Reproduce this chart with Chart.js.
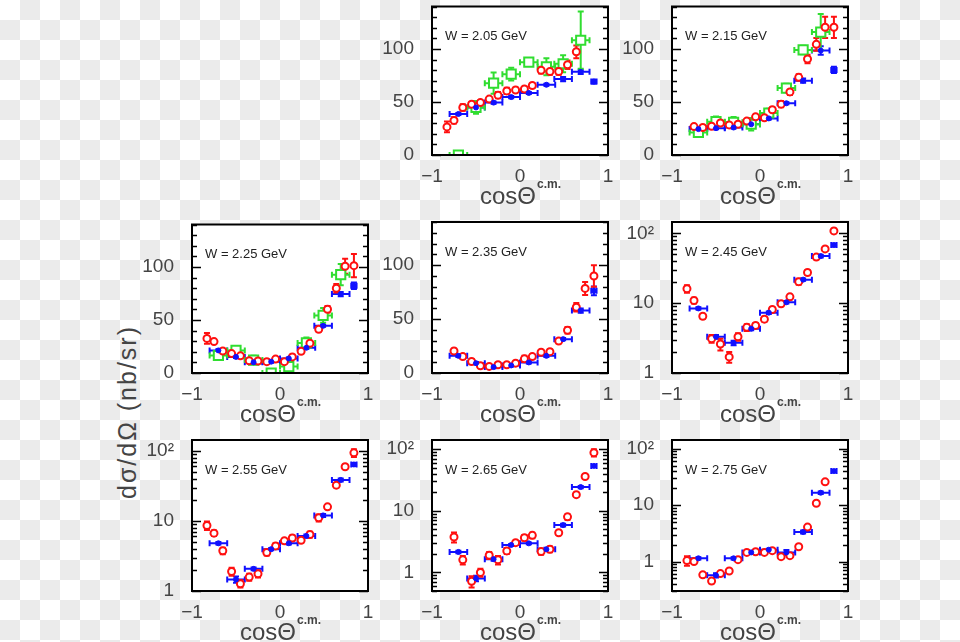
<!DOCTYPE html>
<html>
<head>
<meta charset="utf-8">
<script src="https://cdn.jsdelivr.net/npm/chart.js@4/dist/chart.umd.min.js"></script>
<style>
  html, body { margin: 0; padding: 0; }
  body {
    width: 960px; height: 642px; position: relative; overflow: hidden;
    background: repeating-conic-gradient(#ebebeb 0 25%, #fff 0 50%) 0 0 / 40px 40px;
    font-family: 'Liberation Sans', Arial, sans-serif;
  }
  .panel { position: absolute; width: 258px; height: 215px; }
  #ytitle {
    position: absolute; left: 127px; top: 412px;
    transform: translate(-50%, -50%) rotate(-90deg);
    font-size: 25px; color: #444; white-space: nowrap; letter-spacing: 2px;
  }
</style>
</head>
<body>
<div id="ytitle">dσ/dΩ (nb/sr)</div>

<script>
// cos(theta) bins
const cosRed = [-0.83, -0.75, -0.65, -0.55, -0.45, -0.35, -0.25, -0.15, -0.05, 0.05, 0.14, 0.24, 0.34, 0.44, 0.54, 0.64, 0.74, 0.84];
const cosBlue = [-0.7, -0.5, -0.3, -0.1, 0.1, 0.3, 0.49, 0.69, 0.84];
const cosBlueErr = [0.1, 0.1, 0.1, 0.1, 0.1, 0.1, 0.1, 0.1, 0.03];
const cosGreen = [-0.7, -0.5, -0.3, -0.1, 0.1, 0.3, 0.49, 0.69];
const cosGreenErr = [0.1, 0.1, 0.1, 0.1, 0.1, 0.1, 0.1, 0.1];

const energies = ['2.05', '2.15', '2.25', '2.35', '2.45', '2.55', '2.65', '2.75'];
const linTicks = [0, 50, 100];
const logTicks = [1, 10, 100];

// red open circles
const red205 = [26.5, 32.6, 44.8, 47.9, 49.4, 52.7, 56.4, 60.4, 61.3, 62.2, 65.5, 79.9, 78.7, 78.7, 85.1, 97.3, null, null];
const red215 = [null, 26.8, 25.9, 27.1, 30.2, 28.4, 29.0, 32.0, 36.0, 35.1, 42.7, 47.9, 59.5, 73.2, 90.5, 104.3, 120.4, 120.4];
const red225 = [32.6, 29.6, 20.7, 18.3, 16.2, 11.6, 11.3, 10.7, 13.1, 10.7, 15.2, 20.4, 28.0, 41.2, 60.1, 79.9, 100.6, 101.2];
const red235 = [null, 20.4, 15.2, 10.7, 6.7, 6.1, 7.6, 7.6, 9.1, 13.1, 15.2, 19.2, 19.8, 29.6, 39.6, 61.0, 78.4, 89.9];
const red245 = [16.1, 10.9, 6.5, 3.1, 2.6, 1.7, 3.3, 4.5, 4.8, 5.9, 8.1, 9.8, 12.3, 20.3, 27.5, 45.6, 59.7, 108];
const red255 = [8.6, 6.7, 3.75, 1.9, 1.27, 1.58, 1.76, 3.55, 4.4, 5.2, 5.7, 5.3, 6.4, 11.1, 15.9, 32.4, 59.4, 93.7];
const red265 = [null, 3.75, 1.6, 0.72, 1.0, 1.9, 1.6, 2.23, 3.04, 3.66, 3.99, 2.18, 2.37, 4.4, 7.96, 18.2, 35.9, 87.3];
const red275 = [1.04, 1.0, 0.58, 0.45, 0.61, 0.68, 1.08, 1.45, 1.49, 1.45, 1.56, 1.22, 1.27, 1.83, 4.08, 10.8, 25.9, null];

const redErr205 = [5, 3, 3, 2, 2, 2, 3, 3, 2, 2, 2, 3, 3, 3, 4, 6, null, null];
const redErr215 = [null, 2, 2, 2, 2, 2, 2, 2, 2, 2, 2, 3, 3, 3, 4, 6, 10, 10];
const redErr225 = [5, 2, 2, 2, 2, 2, 2, 2, 2, 2, 2, 2, 2, 2, 3, 4, 7, 11];
const redErr235 = [null, 2, 2, 2, 1, 1, 1, 1, 1, 3, 2, 2, 2, 2, 3, 4, 6, 10];
const redErr245 = [2, 1, 0.5, 0.4, 0.5, 0.3, 0.4, 0.5, 0.4, 0.5, 0.6, 0.8, 0.9, 2, 2, 3, 4, 8];
const redErr255 = [1.2, 0.6, 0.4, 0.25, 0.15, 0.18, 0.2, 0.35, 0.4, 0.35, 0.5, 0.4, 0.6, 1.3, 1, 2.5, 4, 12];
const redErr265 = [null, 0.7, 0.25, 0.15, 0.15, 0.25, 0.25, 0.25, 0.2, 0.4, 0.4, 0.25, 0.25, 0.35, 0.8, 1.3, 2, 12];
const redErr275 = [0.2, 0.05, 0.05, 0.04, 0.04, 0.04, 0.05, 0.08, 0.06, 0.06, 0.08, 0.08, 0.08, 0.1, 0.2, 0.5, 1.2, null];

// blue filled points
const blue205 = [38.7, 44.8, 49.4, 54.6, 58.5, 66.2, 71.6, 78.4, 69.2];
const blue215 = [24.4, 25.3, 25.9, 29.0, 34.5, 48.8, 70.1, 98.5, 80.2];
const blue225 = [21.3, 15.2, 10.1, 10.7, 13.7, 23.8, 44.5, 74.4, 82.3];
const blue235 = [15.9, 9.1, 5.5, 7.0, 9.8, 15.9, 31.4, 57.9, 76.2];
const blue245 = [8.4, 3.3, 2.7, 4.3, 7.3, 10.3, 21.7, 47.1, 67.9];
const blue255 = [4.8, 1.46, 2.07, 3.96, 4.8, 6.1, 12.0, 38.5, 64];
const blue265 = [2.15, 0.8, 1.64, 2.79, 2.96, 2.37, 5.85, 24.2, 53.3];
const blue275 = [1.14, 0.57, 1.14, 1.45, 1.62, 1.45, 3.34, 16.6, 40.2];

const blueErr205 = [1, 1, 1, 1, 1, 1, 2, 2, 2];
const blueErr215 = [1, 1, 1, 1, 1, 1, 2, 4, 3];
const blueErr225 = [1, 1, 1, 1, 1, 1, 1, 2, 3];
const blueErr235 = [1, 1, 1, 1, 1, 1, 1, 2, 4];
const blueErr245 = [0.3, 0.2, 0.2, 0.2, 0.3, 0.4, 0.8, 2, 3];
const blueErr255 = [0.2, 0.15, 0.1, 0.15, 0.2, 0.3, 0.6, 2, 3];
const blueErr265 = [0.1, 0.08, 0.1, 0.1, 0.1, 0.15, 0.3, 1, 2];
const blueErr275 = [0.05, 0.05, 0.05, 0.05, 0.06, 0.15, 0.2, 0.8, 2];

// green open squares
const green205 = [0, 44.8, 67.7, 76.2, 87.5, 83.2, 86.0, 108.2];
const green215 = [21.3, 31.4, 30.8, 29.0, 39.6, 63.1, 99.1, 115.9];
const green225 = [16.5, 21.3, 12.2, 0, 6.1, 28.4, 54.3, 92.7];
const greenErr205 = [0, 6, 10, 6, 2, 8, 8, 27];
const greenErr215 = [3, 5, 5, 6, 4, 4, 4, 17];
const greenErr225 = [3, 4, 4, 0, 4, 5, 7, 10];

const panels = [
  { w: energies[0], left: 432, top: 2, log: false, red: red205, redErr: redErr205, blue: blue205, blueErr: blueErr205, green: green205, greenErr: greenErr205 },
  { w: energies[1], left: 672, top: 2, log: false, red: red215, redErr: redErr215, blue: blue215, blueErr: blueErr215, green: green215, greenErr: greenErr215 },
  { w: energies[2], left: 192, top: 220, log: false, red: red225, redErr: redErr225, blue: blue225, blueErr: blueErr225, green: green225, greenErr: greenErr225 },
  { w: energies[3], left: 432, top: 220, log: false, red: red235, redErr: redErr235, blue: blue235, blueErr: blueErr235 },
  { w: energies[4], left: 672, top: 220, log: true, ymin: 1, ymax: 145, red: red245, redErr: redErr245, blue: blue245, blueErr: blueErr245 },
  { w: energies[5], left: 192, top: 438, log: true, ymin: 1, ymax: 143, red: red255, redErr: redErr255, blue: blue255, blueErr: blueErr255 },
  { w: energies[6], left: 432, top: 438, log: true, ymin: 0.5, ymax: 140, red: red265, redErr: redErr265, blue: blue265, blueErr: blueErr265 },
  { w: energies[7], left: 672, top: 438, log: true, ymin: 0.31, ymax: 143, red: red275, redErr: redErr275, blue: blue275, blueErr: blueErr275 }
];

const RED = '#ff1010', BLUE = '#1010ff', GREEN = '#30dd30';
const AXIS_W = 70, PAD_TOP = 4, PLOT_W = 176, PLOT_H = 153, CANVAS_W = 258, CANVAS_H = 215;

function pts(xs, ys, ey, ex) {
  const out = [];
  xs.forEach((x, i) => {
    if (ys[i] === null || ys[i] === undefined) return;
    out.push({ x: x, y: ys[i], ey: ey ? (ey[i] || 0) : 0, ex: ex ? (ex[i] || 0) : 0 });
  });
  return out;
}

// error bars, drawn under the markers
const errorBars = {
  id: 'errorBars',
  beforeDatasetsDraw(chart) {
    const ctx = chart.ctx, xs = chart.scales.x, ys = chart.scales.y, a = chart.chartArea;
    ctx.save();
    ctx.beginPath();
    ctx.rect(a.left, a.top, a.right - a.left, a.bottom - a.top);
    ctx.clip();
    chart.data.datasets.forEach(ds => {
      ctx.strokeStyle = ds.pointBorderColor;
      ctx.lineWidth = 2;
      ds.data.forEach(p => {
        const px = xs.getPixelForValue(p.x), py = ys.getPixelForValue(p.y);
        ctx.beginPath();
        if (p.ey) {
          let lo = p.y - p.ey;
          if (lo <= ys.min) lo = ys.min;
          const y1 = ys.getPixelForValue(lo), y2 = ys.getPixelForValue(p.y + p.ey);
          ctx.moveTo(px, y1); ctx.lineTo(px, y2);
          ctx.moveTo(px - 3, y1); ctx.lineTo(px + 3, y1);
          ctx.moveTo(px - 3, y2); ctx.lineTo(px + 3, y2);
        }
        if (p.ex) {
          const x1 = xs.getPixelForValue(p.x - p.ex), x2 = xs.getPixelForValue(p.x + p.ex);
          ctx.moveTo(x1, py); ctx.lineTo(x2, py);
          ctx.moveTo(x1, py - 3); ctx.lineTo(x1, py + 3);
          ctx.moveTo(x2, py - 3); ctx.lineTo(x2, py + 3);
        }
        ctx.stroke();
      });
    });
    ctx.restore();
  }
};

// white plot area, frame, inner ticks, energy label and x title
const frame = {
  id: 'frame',
  beforeDraw(chart) {
    const ctx = chart.ctx, a = chart.chartArea;
    ctx.save();
    ctx.fillStyle = '#fff';
    ctx.fillRect(a.left, a.top, a.right - a.left, a.bottom - a.top);
    ctx.restore();
  },
  afterDraw(chart, args, opts) {
    const ctx = chart.ctx, a = chart.chartArea, ys = chart.scales.y;
    ctx.save();
    ctx.strokeStyle = '#000';
    ctx.lineWidth = 1.5;
    const tick = (v, len) => {
      const py = Math.round(ys.getPixelForValue(v)) + 0.5;
      ctx.beginPath();
      ctx.moveTo(a.left, py); ctx.lineTo(a.left + len, py);
      ctx.moveTo(a.right, py); ctx.lineTo(a.right - len, py);
      ctx.stroke();
    };
    if (opts.log) {
      const d0 = Math.floor(Math.log10(ys.min)), d1 = Math.ceil(Math.log10(ys.max));
      for (let d = d0; d <= d1; d++) {
        for (let m = 1; m <= 9; m++) {
          const v = m * Math.pow(10, d);
          if (v >= ys.min && v <= ys.max) tick(v, m === 1 ? 9 : 5);
        }
      }
    } else {
      for (let v = 0; v <= ys.max; v += 10) tick(v, v % 50 === 0 ? 9 : 5);
    }
    ctx.lineWidth = 2;
    ctx.strokeRect(a.left, a.top, a.right - a.left, a.bottom - a.top);

    ctx.fillStyle = '#222';
    ctx.font = '13px "Liberation Sans", Arial, sans-serif';
    ctx.textBaseline = 'middle';
    ctx.textAlign = 'left';
    ctx.fillText('W = ' + opts.w + ' GeV', a.left + 13, a.top + 30);

    ctx.fillStyle = '#444';
    ctx.textBaseline = 'alphabetic';
    ctx.font = '24px "Liberation Sans", Arial, sans-serif';
    const main = 'cosΘ', sup = 'c.m.';
    const w1 = ctx.measureText(main).width;
    ctx.font = 'bold 12px "Liberation Sans", Arial, sans-serif';
    const w2 = ctx.measureText(sup).width;
    const x0 = (a.left + a.right) / 2 - (w1 + w2) / 2;
    ctx.font = '24px "Liberation Sans", Arial, sans-serif';
    ctx.fillText(main, x0, a.bottom + 49);
    ctx.font = 'bold 12px "Liberation Sans", Arial, sans-serif';
    ctx.fillText(sup, x0 + w1 + 1, a.bottom + 33);
    ctx.restore();
  }
};

panels.forEach((p, i) => {
  const div = document.createElement('div');
  div.className = 'panel';
  div.style.left = (p.left - AXIS_W) + 'px';
  div.style.top = (p.top - PAD_TOP) + 'px';
  const canvas = document.createElement('canvas');
  canvas.width = CANVAS_W;
  canvas.height = CANVAS_H;
  div.appendChild(canvas);
  document.body.appendChild(div);

  const datasets = [];
  datasets.push({
    label: 'blue', data: pts(cosBlue, p.blue, p.blueErr, cosBlueErr), order: 0,
    pointStyle: 'circle', pointRadius: 2.5, pointBorderWidth: 1,
    pointBorderColor: BLUE, pointBackgroundColor: BLUE, showLine: false
  });
  datasets.push({
    label: 'red', data: pts(cosRed, p.red, p.redErr, null), order: 1,
    pointStyle: 'circle', pointRadius: 3.5, pointBorderWidth: 2,
    pointBorderColor: RED, pointBackgroundColor: '#fff', showLine: false
  });
  if (p.green) {
    datasets.push({
      label: 'green', data: pts(cosGreen, p.green, p.greenErr, cosGreenErr), order: 2,
      pointStyle: 'rect', pointRadius: 6.5, pointBorderWidth: 2,
      pointBorderColor: GREEN, pointBackgroundColor: '#fff', showLine: false
    });
  }

  const fitY = s => { s.width = AXIS_W; s.paddingTop = 0; s.paddingBottom = 0; };
  const tickFont = { size: 19, family: '"Liberation Sans", Arial, sans-serif' };

  const yScale = p.log ? {
    type: 'logarithmic', min: p.ymin, max: p.ymax,
    afterFit: fitY,
    grid: { display: false, drawTicks: false }, border: { display: false },
    ticks: {
      autoSkip: false, padding: 18, color: '#444', font: tickFont,
      callback: v => logTicks.includes(v) ? (v === 100 ? '10²' : String(v)) : ''
    }
  } : {
    type: 'linear', min: 0, max: 140,
    afterFit: fitY,
    grid: { display: false, drawTicks: false }, border: { display: false },
    ticks: {
      stepSize: 50, includeBounds: false, padding: 18, color: '#444', font: tickFont,
      callback: v => linTicks.includes(v) ? String(v) : ''
    }
  };

  new Chart(canvas.getContext('2d'), {
    type: 'scatter',
    data: { datasets: datasets },
    options: {
      responsive: false,
      animation: false,
      devicePixelRatio: 1,
      // chart area ends up one pixel below the padding, so ask for one less
      layout: { padding: { top: PAD_TOP - 1, right: CANVAS_W - AXIS_W - PLOT_W, left: 0, bottom: 0 } },
      scales: {
        x: {
          type: 'linear', min: -1, max: 1,
          afterFit: s => { s.height = CANVAS_H - PAD_TOP - PLOT_H; s.paddingLeft = 0; s.paddingRight = 0; },
          grid: { display: false, drawTicks: false }, border: { display: false },
          ticks: {
            stepSize: 1, padding: 10, color: '#444', font: tickFont,
            callback: v => v < 0 ? '−' + Math.abs(v) : String(v)
          }
        },
        y: yScale
      },
      plugins: {
        legend: { display: false },
        tooltip: { enabled: false },
        frame: { w: p.w, log: p.log }
      }
    },
    plugins: [errorBars, frame]
  });
});
</script>
</body>
</html>
